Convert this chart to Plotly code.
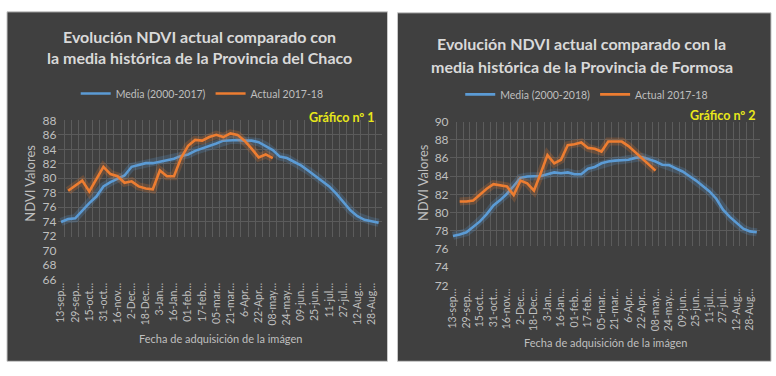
import plotly.graph_objects as go

# ---------------- data ----------------
etiquetas = ["13-sep…", "29-sep…", "15-oct…", "31-oct…", "16-nov…", "2-Dec…",
             "18-Dec…", "3-Jan…", "16-Jan…", "01-feb…", "17-feb…", "05-mar…",
             "21-mar…", "6-Apr…", "22-Apr…", "08-may…", "24-may…", "09-jun…",
             "25-jun…", "11-jul…", "27-jul…", "12-Aug…", "28-Aug…"]

chaco_media = [74.0, 74.4, 74.5, 75.6, 76.6, 77.5, 78.9, 79.5, 80.0, 80.4,
               81.6, 81.8, 82.1, 82.1, 82.3, 82.5, 82.7, 83.1, 83.3, 83.8,
               84.1, 84.4, 84.8, 85.2, 85.3, 85.3, 85.2, 85.2, 85.0, 84.5,
               83.9, 83.0, 82.8, 82.3, 81.8, 81.1, 80.4, 79.7, 78.9, 77.9,
               76.7, 75.6, 74.8, 74.3, 74.1, 73.9]
chaco_actual = [None, 78.3, 79.0, 79.7, 78.2, 79.9, 81.6, 80.6, 80.3, 79.4,
                79.6, 78.9, 78.6, 78.5, 81.1, 80.3, 80.3, 82.8, 84.5, 85.3,
                85.2, 85.7, 86.0, 85.7, 86.2, 86.0, 85.2, 84.1, 82.9, 83.3,
                82.8]

formosa_media = [77.4, 77.55, 77.8, 78.4, 79.0, 79.8, 80.75, 81.35, 82.05, 82.9,
                 83.8, 83.95, 83.95, 84.0, 84.2, 84.4, 84.3, 84.4, 84.2, 84.2,
                 84.8, 85.0, 85.4, 85.6, 85.7, 85.75, 85.8, 86.0, 86.1, 85.85,
                 85.6, 85.25, 85.2, 84.85, 84.5, 84.0, 83.5, 82.9, 82.3, 81.5,
                 80.3, 79.5, 78.8, 78.2, 77.9, 77.8]
formosa_actual = [None, 81.2, 81.2, 81.3, 82.0, 82.6, 83.1, 83.0, 82.85, 81.9,
                  83.5, 83.2, 82.4, 84.3, 86.3, 85.4, 85.8, 87.4, 87.5, 87.7,
                  87.1, 87.0, 86.7, 87.8, 87.8, 87.8, 87.3, 86.6, 85.9, 85.3,
                  84.6]

# ---------------- layout helpers ----------------
W, H = 776, 376
PANEL = "#404040"
GRID = "#5c5c5c"
TXT = "#bfbfbf"
TITLE = "#d9d9d9"
BLUE = "#5b9bd5"
ORANGE = "#ed7d31"
FONT = "Lato"


def px(x):
    return x / W


def py(y):
    return 1 - y / H


n = len(chaco_media)
xs = list(range(n))
tickvals = list(range(0, n, 2))
XR = [-0.5, n - 0.5]

fig = go.Figure()


def add_series(xaxis, yaxis, media, actual, media_name, legend):
    for vals, color, name in ((media, BLUE, media_name), (actual, ORANGE, "Actual 2017-18")):
        x = xs[:len(vals)]
        fig.add_trace(go.Scatter(x=x, y=vals, mode="lines", xaxis=xaxis, yaxis=yaxis,
                                 line=dict(color=color, width=8), opacity=0.22,
                                 showlegend=False, hoverinfo="skip"))
        fig.add_trace(go.Scatter(x=x, y=vals, mode="lines", xaxis=xaxis, yaxis=yaxis,
                                 name=name, legend=legend,
                                 line=dict(color=color, width=2.6)))


add_series("x", "y", chaco_media, chaco_actual, "Media (2000-2017)", "legend")
add_series("x2", "y2", formosa_media, formosa_actual, "Media (2000-2018)", "legend2")

# empty traces so the label-only axes get drawn
for xa, ya in (("x3", "y3"), ("x4", "y4")):
    fig.add_trace(go.Scatter(x=[None], y=[None], mode="lines", xaxis=xa, yaxis=ya,
                             showlegend=False, hoverinfo="skip"))

# data axes (with grid, no labels)
xdata = dict(range=XR, showticklabels=False, showgrid=False, zeroline=False,
             showline=False, ticks="", tickmode="array", tickvals=tickvals,
             minor=dict(tickmode="linear", tick0=-0.5, dtick=1, showgrid=True,
                        gridcolor=GRID, gridwidth=1, ticks=""))
ydata = dict(dtick=2, tick0=0, showgrid=True, gridcolor=GRID, gridwidth=1, zeroline=False,
             showline=False, ticks="", showticklabels=False)
# label axes (no grid, labels only)
xlab = dict(range=XR, tickmode="array", tickvals=tickvals, ticktext=etiquetas,
            tickangle=-90, showgrid=False, zeroline=False, showline=False, ticks="",
            tickfont=dict(family=FONT, size=10.5, color=TXT))
ylab = dict(dtick=2, tick0=0, showgrid=False, zeroline=False, showline=False, ticks="",
            tickfont=dict(family=FONT, size=12, color=TXT))

L_X = [px(54.75), px(380.6)]
R_X = [px(448.3), px(760.1)]

fig.update_layout(
    width=W, height=H, autosize=False,
    margin=dict(l=0, r=0, t=0, b=0),
    paper_bgcolor="white", plot_bgcolor="rgba(0,0,0,0)",
    showlegend=True,
    xaxis=dict(domain=L_X, anchor="y", **xdata),
    yaxis=dict(domain=[py(238), py(117)], anchor="x", range=[72, 88], **ydata),
    xaxis3=dict(domain=L_X, anchor="y3", **xlab),
    yaxis3=dict(domain=[py(283), py(117)], anchor="x3", range=[66, 88], **ylab),
    xaxis2=dict(domain=R_X, anchor="y2", **xdata),
    yaxis2=dict(domain=[py(247.8), py(118.3)], anchor="x2", range=[76.3, 90], **ydata),
    xaxis4=dict(domain=R_X, anchor="y4", **xlab),
    yaxis4=dict(domain=[py(289), py(118.3)], anchor="x4", range=[72, 90], **ylab),
    legend=dict(orientation="h", x=px(200), y=py(89), xanchor="center", yanchor="middle",
                bgcolor="rgba(0,0,0,0)", font=dict(family=FONT, size=10.5, color=TXT),
                itemwidth=30, tracegroupgap=0),
    legend2=dict(orientation="h", x=px(586), y=py(90), xanchor="center", yanchor="middle",
                 bgcolor="rgba(0,0,0,0)", font=dict(family=FONT, size=10.5, color=TXT),
                 itemwidth=30, tracegroupgap=0),
)

shapes = [
    dict(type="rect", xref="paper", yref="paper", x0=px(4), x1=px(386), y0=py(368), y1=py(4),
         fillcolor=PANEL, line=dict(color="#c8c8c8", width=1), layer="below"),
    dict(type="rect", xref="paper", yref="paper", x0=px(396), x1=px(771), y0=py(368), y1=py(5),
         fillcolor=PANEL, line=dict(color="#c8c8c8", width=1), layer="below"),
]
fig.update_layout(shapes=shapes)

ann = []


def text(x, y, s, size, color, bold=False, xanchor="center", angle=0):
    ann.append(dict(xref="paper", yref="paper", x=px(x), y=py(y), text=s, showarrow=False,
                    xanchor=xanchor, yanchor="middle", textangle=angle,
                    font=dict(family=FONT, size=size, color=color,
                              weight="bold" if bold else "normal")))


text(197, 30, "Evolución NDVI actual comparado con", 16, TITLE, bold=True)
text(197, 52, "la media histórica de la Provincia del Chaco", 16, TITLE, bold=True)
text(581, 37, "Evolución NDVI actual comparado con la", 16, TITLE, bold=True)
text(581, 61, "media histórica de la Provincia de Formosa", 16, TITLE, bold=True)

text(375, 114, "Gráfico nº 1", 12.5, "#e8e81a", bold=True, xanchor="right")
text(758, 112, "Gráfico nº 2", 12.5, "#e8e81a", bold=True, xanchor="right")

text(27, 182, "NDVI Valores", 13, TXT, angle=-90)
text(421, 182, "NDVI Valores", 13, TXT, angle=-90)

text(218, 344, "Fecha de adquisición de la imágen", 11, TXT)
text(605, 348, "Fecha de adquisición de la imágen", 11, TXT)

fig.update_layout(annotations=ann)

fig.write_html("out.html", config={"displayModeBar": False},
               post_script="document.body.style.margin='0';document.body.style.overflow='hidden';")
